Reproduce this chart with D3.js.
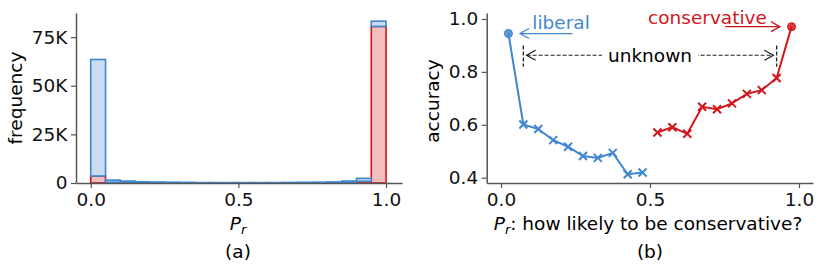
<!DOCTYPE html>
<html>
<head>
<meta charset="utf-8">
<script src="https://cdn.jsdelivr.net/npm/d3@7"></script>
<style>
  body { margin: 0; background: #fff; }
  text { font-family: "DejaVu Sans", sans-serif; }
</style>
</head>
<body>
<div id="chart"></div>
<script>
// histogram bins (width 0.05), red stacked under blue
const binStarts = d3.range(20).map(i => i * 0.05);
const redCounts  = [3600, 400, 200, 150, 100, 100, 80, 60, 50, 50, 50, 50, 60, 80, 100, 120, 150, 400, 900, 80500];
const blueCounts = [59900, 1100, 800, 500, 400, 300, 250, 150, 150, 150, 150, 150, 150, 200, 250, 300, 400, 600, 1500, 2700];
const histXTicks = [0, 0.5, 1.0];
const histYTicks = [0, 25000, 50000, 75000];
const histYLabels = ["0", "25K", "50K", "75K"];

// accuracy per bin
const libX   = [0.075, 0.125, 0.175, 0.225, 0.275, 0.325, 0.375, 0.425, 0.475];
const libAcc = [0.601, 0.584, 0.542, 0.517, 0.482, 0.475, 0.494, 0.413, 0.420];
const conX   = [0.525, 0.575, 0.625, 0.675, 0.725, 0.775, 0.825, 0.875, 0.925];
const conAcc = [0.571, 0.591, 0.566, 0.668, 0.659, 0.681, 0.717, 0.731, 0.777];
const libEnd = {x: 0.025, acc: 0.945};
const conEnd = {x: 0.975, acc: 0.971};
const accXTicks = [0, 0.5, 1.0];
const accYTicks = [0.4, 0.6, 0.8, 1.0];

const blue = "#3f87cf", blueFill = "#c9dcf0";
const red = "#d0161c", redFill = "#f2bfbf";
const axisColor = "#555";
const fs = 18.5;

const svg = d3.select("#chart").append("svg")
    .attr("width", 822).attr("height", 272);

function styleAxis(g) {
  g.select(".domain").attr("stroke", axisColor).attr("stroke-width", 1.5);
  g.selectAll(".tick line").attr("stroke", axisColor).attr("stroke-width", 1.2);
  g.selectAll(".tick text").attr("font-size", fs).attr("fill", "#111")
    .attr("font-family", "DejaVu Sans");
}

// ---------- (a) histogram ----------
const x1 = d3.scaleLinear().domain([-0.05, 1.054]).range([76, 402]);
const y1 = d3.scaleLinear().domain([0, 87400]).range([183, 13]);

const rows = binStarts.map((b, i) => ({x0: b, red: redCounts[i], blue: blueCounts[i]}));
const stacked = d3.stack().keys(["red", "blue"])(rows);
const colors = {red: [red, redFill], blue: [blue, blueFill]};

stacked.forEach(layer => {
  const [stroke, fill] = colors[layer.key];
  svg.append("g").selectAll("rect")
    .data(layer)
    .join("rect")
      .attr("x", d => x1(d.data.x0))
      .attr("width", x1(0.05) - x1(0))
      .attr("y", d => y1(d[1]))
      .attr("height", d => y1(d[0]) - y1(d[1]))
      .attr("fill", fill)
      .attr("stroke", stroke)
      .attr("stroke-width", 1.6);
});

svg.append("g")
    .attr("transform", "translate(0,183)")
    .call(d3.axisBottom(x1).tickValues(histXTicks).tickFormat(d3.format(".1f"))
      .tickSize(5).tickPadding(5).tickSizeOuter(0))
    .call(styleAxis);

svg.append("g")
    .attr("transform", "translate(76,0)")
    .call(d3.axisLeft(y1).tickValues(histYTicks).tickFormat((d, i) => histYLabels[i])
      .tickSize(5).tickPadding(3.5).tickSizeOuter(0))
    .call(styleAxis);

svg.append("text")
    .attr("transform", "translate(22,98) rotate(-90)")
    .attr("text-anchor", "middle")
    .attr("font-size", fs)
    .text("frequency");

const pa = svg.append("text")
    .attr("x", 238).attr("y", 230)
    .attr("text-anchor", "middle")
    .attr("font-size", fs);
pa.append("tspan").attr("font-style", "italic").text("P");
pa.append("tspan").attr("font-style", "italic").attr("font-size", fs * 0.7)
    .attr("dy", 4).text("r");

svg.append("text")
    .attr("x", 238).attr("y", 258)
    .attr("text-anchor", "middle")
    .attr("font-size", fs)
    .text("(a)");

// ---------- (b) accuracy ----------
const x2 = d3.scaleLinear().domain([-0.048, 1.047]).range([486.7, 813]);
const y2 = d3.scaleLinear().domain([0.38, 1.0226]).range([183, 13]);

svg.append("g")
    .attr("transform", "translate(0,183)")
    .call(d3.axisBottom(x2).tickValues(accXTicks).tickFormat(d3.format(".1f"))
      .tickSize(5).tickPadding(5).tickSizeOuter(0))
    .call(styleAxis);

svg.append("g")
    .attr("transform", "translate(486.7,0)")
    .call(d3.axisLeft(y2).tickValues(accYTicks).tickFormat(d3.format(".1f"))
      .tickSize(5).tickPadding(3.5).tickSizeOuter(0))
    .call(styleAxis);

const line = d3.line().x(d => x2(d[0])).y(d => y2(d[1]));

function series(xs, ys, end, endFirst, color) {
  const pts = xs.map((v, i) => [v, ys[i]]);
  const full = endFirst ? [[end.x, end.acc], ...pts] : [...pts, [end.x, end.acc]];
  svg.append("path")
      .attr("d", line(full))
      .attr("fill", "none")
      .attr("stroke", color)
      .attr("stroke-width", 2);
  const s = 4;
  svg.append("g").selectAll("path")
    .data(pts)
    .join("path")
      .attr("d", d => {
        const cx = x2(d[0]), cy = y2(d[1]);
        return `M${cx - s},${cy - s}L${cx + s},${cy + s}M${cx - s},${cy + s}L${cx + s},${cy - s}`;
      })
      .attr("stroke", color)
      .attr("stroke-width", 2);
  svg.append("circle")
      .attr("cx", x2(end.x)).attr("cy", y2(end.acc))
      .attr("r", 4)
      .attr("fill", color)
      .attr("fill-opacity", 0.85)
      .attr("stroke", color);
}
series(libX, libAcc, libEnd, true, blue);
series(conX, conAcc, conEnd, false, red);

// annotations
function arrowHead(tipX, tipY, dir, color) {
  // open "->" head
  const L = 9, H = 5;
  svg.append("path")
      .attr("d", `M${tipX - dir * L},${tipY - H}L${tipX},${tipY}L${tipX - dir * L},${tipY + H}`)
      .attr("fill", "none")
      .attr("stroke", color)
      .attr("stroke-width", 1.3);
}

// liberal
svg.append("text")
    .attr("x", x2(0.105)).attr("y", 29)
    .attr("font-size", fs).attr("fill", blue)
    .text("liberal");
svg.append("line")
    .attr("x1", x2(0.24)).attr("x2", x2(0.064))
    .attr("y1", y2(libEnd.acc)).attr("y2", y2(libEnd.acc))
    .attr("stroke", blue).attr("stroke-width", 1.3);
arrowHead(x2(0.064), y2(libEnd.acc), -1, blue);

// conservative
svg.append("text")
    .attr("x", x2(0.693)).attr("y", 23.5)
    .attr("text-anchor", "middle")
    .attr("font-size", fs).attr("fill", red)
    .text("conservative");
svg.append("line")
    .attr("x1", x2(0.752)).attr("x2", x2(0.936))
    .attr("y1", y2(conEnd.acc)).attr("y2", y2(conEnd.acc))
    .attr("stroke", red).attr("stroke-width", 1.3);
arrowHead(x2(0.936), y2(conEnd.acc), 1, red);

// unknown range
const uy = y2(0.863);
[0.075, 0.925].forEach(v => {
  svg.append("line")
      .attr("x1", x2(v)).attr("x2", x2(v))
      .attr("y1", y2(0.9)).attr("y2", y2(0.819))
      .attr("stroke", "#222").attr("stroke-width", 1.3)
      .attr("stroke-dasharray", "4,2");
});
svg.append("line")
    .attr("x1", x2(0.086)).attr("x2", x2(0.914))
    .attr("y1", uy).attr("y2", uy)
    .attr("stroke", "#222").attr("stroke-width", 1.1)
    .attr("stroke-dasharray", "4,2");
arrowHead(x2(0.086), uy, -1, "#222");
arrowHead(x2(0.914), uy, 1, "#222");
svg.append("rect")
    .attr("x", x2(0.5) - 48).attr("y", uy - 11)
    .attr("width", 96).attr("height", 22)
    .attr("fill", "#fff");
svg.append("text")
    .attr("x", x2(0.5)).attr("y", uy + 6.5)
    .attr("text-anchor", "middle")
    .attr("font-size", fs)
    .text("unknown");

svg.append("text")
    .attr("transform", "translate(439,101) rotate(-90)")
    .attr("text-anchor", "middle")
    .attr("font-size", fs)
    .text("accuracy");

const pb = svg.append("text")
    .attr("x", 648).attr("y", 230)
    .attr("text-anchor", "middle")
    .attr("font-size", fs);
pb.append("tspan").attr("font-style", "italic").text("P");
pb.append("tspan").attr("font-style", "italic").attr("font-size", fs * 0.7)
    .attr("dy", 4).text("r");
pb.append("tspan").attr("dy", -4).text(": how likely to be conservative?");

svg.append("text")
    .attr("x", 650).attr("y", 258)
    .attr("text-anchor", "middle")
    .attr("font-size", fs)
    .text("(b)");
</script>
</body>
</html>
